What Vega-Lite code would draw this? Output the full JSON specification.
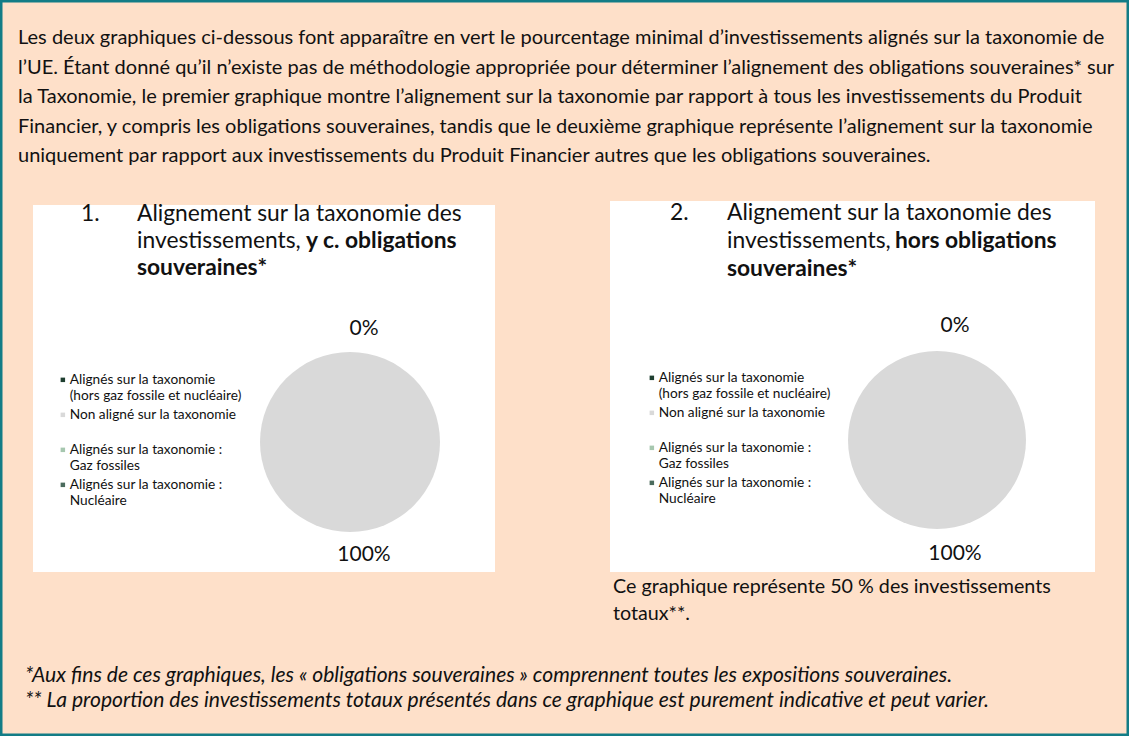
{
  "$schema": "https://vega.github.io/schema/vega-lite/v6.json",
  "width": 1129,
  "height": 736,
  "autosize": {"type": "fit", "contains": "padding"},
  "padding": 0,
  "background": "#FEE0C9",
  "config": {
    "view": {"stroke": "#127C86", "strokeWidth": 5},
    "font": "Lato",
    "text": {"font": "Lato", "color": "#111111"}
  },
  "resolve": {"scale": {"color": "independent"}},
  "layer": [
    {
      "data": {"values": [{"panneau": "1"}]},
      "mark": {"type": "rect", "fill": "#ffffff"},
      "encoding": {
        "x": {"datum": 33, "type": "quantitative", "scale": {"type": "linear", "domain": [0, 1129], "nice": false, "zero": false}, "axis": null},
        "x2": {"datum": 495},
        "y": {"datum": 205, "type": "quantitative", "scale": {"type": "linear", "domain": [0, 736], "nice": false, "zero": false, "reverse": true}, "axis": null},
        "y2": {"datum": 572}
      }
    },
    {
      "data": {"values": [{"panneau": "2"}]},
      "mark": {"type": "rect", "fill": "#ffffff"},
      "encoding": {
        "x": {"datum": 610, "type": "quantitative"},
        "x2": {"datum": 1095},
        "y": {"datum": 201, "type": "quantitative"},
        "y2": {"datum": 572}
      }
    },
    {
      "data": {"values": [
        {"categorie": "Alignés sur la taxonomie\n(hors gaz fossile et nucléaire)", "valeur": 0, "etiquette": "0%"},
        {"categorie": "Non aligné sur la taxonomie", "valeur": 100, "etiquette": "100%"},
        {"categorie": "Alignés sur la taxonomie :\nGaz fossiles", "valeur": 0, "etiquette": "0%"},
        {"categorie": "Alignés sur la taxonomie :\nNucléaire", "valeur": 0, "etiquette": "0%"}
      ]},
      "mark": {"type": "arc", "outerRadius": 90, "stroke": null},
      "encoding": {
        "x": {"datum": 350, "type": "quantitative"},
        "y": {"datum": 442, "type": "quantitative"},
        "theta": {"field": "valeur", "type": "quantitative", "stack": true},
        "color": {
          "field": "categorie", "type": "nominal", "sort": null,
          "scale": {
            "domain": ["Alignés sur la taxonomie\n(hors gaz fossile et nucléaire)", "Non aligné sur la taxonomie", "Alignés sur la taxonomie :\nGaz fossiles", "Alignés sur la taxonomie :\nNucléaire"],
            "range": ["#1E3F30", "#D9D9D9", "#A6C7AF", "#4B6B5D"]
          },
          "legend": {
            "orient": "none", "legendX": 56, "legendY": 373, "title": null, "padding": 0,
            "symbolType": "square", "symbolSize": 20, "symbolStrokeWidth": 0,
            "labelFont": "Lato", "labelFontSize": 13.7, "labelColor": "#111111", "labelLimit": 0, "labelOffset": 0,
            "rowPadding": 4,
            "labelExpr": "datum.label == 'Non aligné sur la taxonomie' ? ['\u00a0' + datum.label, ''] : split(datum.label, '\\n')"
          }
        }
      }
    },
    {
      "data": {"values": [
        {"categorie": "Alignés sur la taxonomie\n(hors gaz fossile et nucléaire)", "valeur": 0, "etiquette": "0%"},
        {"categorie": "Non aligné sur la taxonomie", "valeur": 100, "etiquette": "100%"}
      ]},
      "mark": {"type": "text", "radius": 113, "dx": 14, "fontSize": 21, "baseline": "middle", "align": "center"},
      "encoding": {
        "x": {"datum": 350, "type": "quantitative"},
        "y": {"datum": 442, "type": "quantitative"},
        "theta": {"field": "valeur", "type": "quantitative", "stack": true},
        "text": {"field": "etiquette"}
      }
    },
    {
      "data": {"values": [
        {"categorie": "Alignés sur la taxonomie\n(hors gaz fossile et nucléaire)", "valeur": 0, "etiquette": "0%"},
        {"categorie": "Non aligné sur la taxonomie", "valeur": 100, "etiquette": "100%"},
        {"categorie": "Alignés sur la taxonomie :\nGaz fossiles", "valeur": 0, "etiquette": "0%"},
        {"categorie": "Alignés sur la taxonomie :\nNucléaire", "valeur": 0, "etiquette": "0%"}
      ]},
      "mark": {"type": "arc", "outerRadius": 89, "stroke": null},
      "encoding": {
        "x": {"datum": 937, "type": "quantitative"},
        "y": {"datum": 440, "type": "quantitative"},
        "theta": {"field": "valeur", "type": "quantitative", "stack": true},
        "color": {
          "field": "categorie", "type": "nominal", "sort": null,
          "scale": {
            "domain": ["Alignés sur la taxonomie\n(hors gaz fossile et nucléaire)", "Non aligné sur la taxonomie", "Alignés sur la taxonomie :\nGaz fossiles", "Alignés sur la taxonomie :\nNucléaire"],
            "range": ["#1E3F30", "#D9D9D9", "#A6C7AF", "#4B6B5D"]
          },
          "legend": {
            "orient": "none", "legendX": 645, "legendY": 371, "title": null, "padding": 0,
            "symbolType": "square", "symbolSize": 20, "symbolStrokeWidth": 0,
            "labelFont": "Lato", "labelFontSize": 13.7, "labelColor": "#111111", "labelLimit": 0, "labelOffset": 0,
            "rowPadding": 4,
            "labelExpr": "datum.label == 'Non aligné sur la taxonomie' ? ['\u00a0' + datum.label, ''] : split(datum.label, '\\n')"
          }
        }
      }
    },
    {
      "data": {"values": [
        {"categorie": "Alignés sur la taxonomie\n(hors gaz fossile et nucléaire)", "valeur": 0, "etiquette": "0%"},
        {"categorie": "Non aligné sur la taxonomie", "valeur": 100, "etiquette": "100%"}
      ]},
      "mark": {"type": "text", "radius": 114, "dx": 18, "fontSize": 21, "baseline": "middle", "align": "center"},
      "encoding": {
        "x": {"datum": 937, "type": "quantitative"},
        "y": {"datum": 440, "type": "quantitative"},
        "theta": {"field": "valeur", "type": "quantitative", "stack": true},
        "text": {"field": "etiquette"}
      }
    },
    {
      "data": {"values": [{"texte": "Les deux graphiques ci-dessous font apparaître en vert le pourcentage minimal d’investissements alignés sur la taxonomie de\nl’UE. Étant donné qu’il n’existe pas de méthodologie appropriée pour déterminer l’alignement des obligations souveraines* sur\nla Taxonomie, le premier graphique montre l’alignement sur la taxonomie par rapport à tous les investissements du Produit\nFinancier, y compris les obligations souveraines, tandis que le deuxième graphique représente l’alignement sur la taxonomie\nuniquement par rapport aux investissements du Produit Financier autres que les obligations souveraines."}]},
      "mark": {"type": "text", "align": "left", "baseline": "alphabetic", "fontSize": 20, "lineHeight": 29.5, "lineBreak": "\n"},
      "encoding": {
        "x": {"datum": 18, "type": "quantitative"},
        "y": {"datum": 44, "type": "quantitative"},
        "text": {"field": "texte"}
      }
    },
    {
      "data": {"values": [{"texte": "1."}]},
      "mark": {"type": "text", "align": "left", "baseline": "alphabetic", "fontSize": 22.8},
      "encoding": {"x": {"datum": 81, "type": "quantitative"}, "y": {"datum": 221, "type": "quantitative"}, "text": {"field": "texte"}}
    },
    {
      "data": {"values": [{"texte": "Alignement sur la taxonomie des\ninvestissements,"}]},
      "mark": {"type": "text", "align": "left", "baseline": "alphabetic", "fontSize": 22.8, "lineHeight": 27, "lineBreak": "\n"},
      "encoding": {"x": {"datum": 137, "type": "quantitative"}, "y": {"datum": 221, "type": "quantitative"}, "text": {"field": "texte"}}
    },
    {
      "data": {"values": [{"texte": "y c. obligations"}]},
      "mark": {"type": "text", "align": "left", "baseline": "alphabetic", "fontSize": 22.8, "fontWeight": "bold"},
      "encoding": {"x": {"datum": 306, "type": "quantitative"}, "y": {"datum": 248, "type": "quantitative"}, "text": {"field": "texte"}}
    },
    {
      "data": {"values": [{"texte": "souveraines*"}]},
      "mark": {"type": "text", "align": "left", "baseline": "alphabetic", "fontSize": 22.8, "fontWeight": "bold"},
      "encoding": {"x": {"datum": 137, "type": "quantitative"}, "y": {"datum": 275, "type": "quantitative"}, "text": {"field": "texte"}}
    },
    {
      "data": {"values": [{"texte": "2."}]},
      "mark": {"type": "text", "align": "left", "baseline": "alphabetic", "fontSize": 22.8},
      "encoding": {"x": {"datum": 670, "type": "quantitative"}, "y": {"datum": 220, "type": "quantitative"}, "text": {"field": "texte"}}
    },
    {
      "data": {"values": [{"texte": "Alignement sur la taxonomie des\ninvestissements,"}]},
      "mark": {"type": "text", "align": "left", "baseline": "alphabetic", "fontSize": 22.8, "lineHeight": 28, "lineBreak": "\n"},
      "encoding": {"x": {"datum": 727, "type": "quantitative"}, "y": {"datum": 220, "type": "quantitative"}, "text": {"field": "texte"}}
    },
    {
      "data": {"values": [{"texte": "hors obligations"}]},
      "mark": {"type": "text", "align": "left", "baseline": "alphabetic", "fontSize": 22.8, "fontWeight": "bold"},
      "encoding": {"x": {"datum": 895, "type": "quantitative"}, "y": {"datum": 248, "type": "quantitative"}, "text": {"field": "texte"}}
    },
    {
      "data": {"values": [{"texte": "souveraines*"}]},
      "mark": {"type": "text", "align": "left", "baseline": "alphabetic", "fontSize": 22.8, "fontWeight": "bold"},
      "encoding": {"x": {"datum": 727, "type": "quantitative"}, "y": {"datum": 276, "type": "quantitative"}, "text": {"field": "texte"}}
    },
    {
      "data": {"values": [{"texte": "Ce graphique représente 50 % des investissements\ntotaux**."}]},
      "mark": {"type": "text", "align": "left", "baseline": "alphabetic", "fontSize": 19.7, "lineHeight": 27, "lineBreak": "\n"},
      "encoding": {"x": {"datum": 613, "type": "quantitative"}, "y": {"datum": 593, "type": "quantitative"}, "text": {"field": "texte"}}
    },
    {
      "data": {"values": [{"texte": "*Aux fins de ces graphiques, les « obligations souveraines » comprennent toutes les expositions souveraines.\n** La proportion des investissements totaux présentés dans ce graphique est purement indicative et peut varier."}]},
      "mark": {"type": "text", "align": "left", "baseline": "alphabetic", "fontSize": 21.1, "fontStyle": "italic", "lineHeight": 25, "lineBreak": "\n"},
      "encoding": {"x": {"datum": 25, "type": "quantitative"}, "y": {"datum": 682, "type": "quantitative"}, "text": {"field": "texte"}}
    }
  ]
}
